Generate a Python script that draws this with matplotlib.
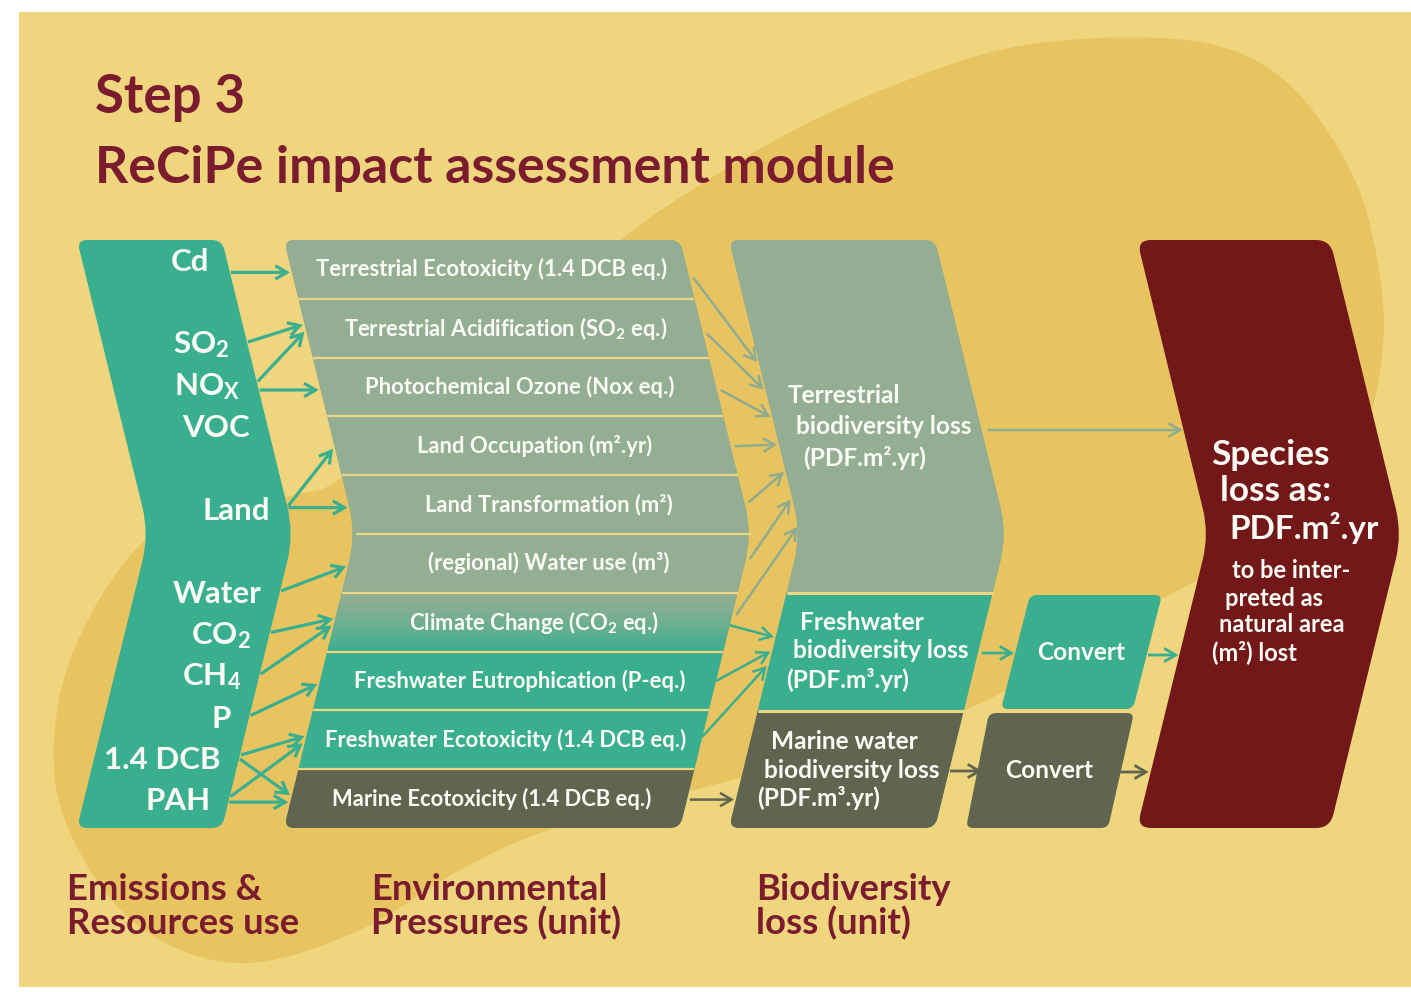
import numpy as np
import matplotlib
matplotlib.use('Agg')
import matplotlib.pyplot as plt
from matplotlib.path import Path
from matplotlib.patches import PathPatch, Rectangle

plt.rcParams['font.family'] = ['Lato', 'DejaVu Sans']

# ------------------------------------------------------------------ data
title_lines = ['Step 3', 'ReCiPe impact assessment module']
emissions = ['Cd', r'$\mathregular{SO_2}$', r'$\mathregular{NO_X}$', 'VOC', 'Land', 'Water',
             r'$\mathregular{CO_2}$', r'$\mathregular{CH_4}$', 'P', '1.4 DCB', 'PAH']
emission_slots = [0, 2, 3, 4, 6, 8, 9, 10, 11, 12, 13]
pressures = ['Terrestrial Ecotoxicity (1.4 DCB eq.)',
             r'Terrestrial Acidification ($\mathregular{SO_2}$ eq.)',
             'Photochemical Ozone (Nox eq.)',
             'Land Occupation (m².yr)',
             'Land Transformation (m²)',
             '(regional) Water use (m³)',
             r'Climate Change ($\mathregular{CO_2}$ eq.)',
             'Freshwater Eutrophication (P-eq.)',
             'Freshwater Ecotoxicity (1.4 DCB eq.)',
             'Marine Ecotoxicity (1.4 DCB eq.)']
pressure_kind = ['terrestrial'] * 6 + ['mixed', 'fresh', 'fresh', 'marine']
emission_links = [(0, 0), (1, 1), (2, 1), (2, 2), (4, 3), (4, 4), (5, 5),
                  (6, 6), (7, 6), (8, 7), (9, 8), (9, 9), (10, 8), (10, 9)]
biodiversity = [['Terrestrial', 'biodiversity loss', '(PDF.m².yr)'],
                ['Freshwater', 'biodiversity loss', '(PDF.m³.yr)'],
                ['Marine water', 'biodiversity loss', '(PDF.m³.yr)']]
bio_kind = ['terrestrial', 'fresh', 'marine']
pressure_links = [(0, 0), (1, 0), (2, 0), (3, 0), (4, 0), (5, 0), (6, 0),
                  (6, 1), (7, 1), (8, 1), (9, 2)]
convert_labels = ['Convert', 'Convert']
species_head = ['Species', 'loss as:', 'PDF.m².yr']
species_note = ['to be inter-', 'preted as', 'natural area', '(m²) lost']
column_headers = [['Emissions &', 'Resources use'],
                  ['Environmental', 'Pressures (unit)'],
                  ['Biodiversity', 'loss (unit)']]

# ------------------------------------------------------------------ style
BG_LIGHT = '#EED57E'
BG_DARK = '#E8C461'
TEAL = '#3AAF8F'
SAGE = '#93AE93'
OLIVE = '#5F654F'
WINE = '#731818'
MAROON = '#7A1C2E'
SEP = '#EDD683'
WHITE = '#FBFBF6'
kind_color = {'terrestrial': SAGE, 'fresh': TEAL, 'marine': OLIVE}
arrow_color = {'terrestrial': '#8FAC90', 'fresh': TEAL, 'marine': OLIVE}

W, Hh = 1411, 992
fig = plt.figure(figsize=(W / 100, Hh / 100), dpi=100, facecolor='white')
ax = fig.add_axes([0, 0, 1, 1])
ax.set_xlim(0, W)
ax.set_ylim(Hh, 0)
ax.axis('off')

TOP, BOT = 240, 828
HALF = (BOT - TOP) / 2
MIDY = TOP + HALF
DEPTH = 72


def edge(x0, y):
    return x0 + DEPTH * (1 - abs(y - MIDY) / HALF)


def rounded_path(pts, radii):
    n = len(pts)
    verts, codes = [], []
    for i in range(n):
        p = np.array(pts[i], float)
        prv = np.array(pts[i - 1], float)
        nxt = np.array(pts[(i + 1) % n], float)
        d1, d2 = prv - p, nxt - p
        l1, l2 = np.hypot(*d1), np.hypot(*d2)
        r1, r2 = min(radii[i], l1 / 2), min(radii[i], l2 / 2)
        a = p + d1 / l1 * r1
        b = p + d2 / l2 * r2
        verts.append(a)
        codes.append(Path.MOVETO if i == 0 else Path.LINETO)
        verts += [p, b]
        codes += [Path.CURVE3, Path.CURVE3]
    verts.append(verts[0])
    codes.append(Path.CLOSEPOLY)
    return Path(verts, codes)


def chevron(xl, xr, r=10, ra=28):
    pts = [(xl, TOP), (xr, TOP), (edge(xr, MIDY), MIDY), (xr, BOT), (xl, BOT), (edge(xl, MIDY), MIDY)]
    return rounded_path(pts, [r, r, ra, r, r, ra])


def catmull(points):
    P = np.array(points, float)
    n = len(P)
    verts = [P[0]]
    codes = [Path.MOVETO]
    for i in range(n):
        p0, p1, p2, p3 = P[i - 1], P[i], P[(i + 1) % n], P[(i + 2) % n]
        c1 = p1 + (p2 - p0) / 6
        c2 = p2 - (p3 - p1) / 6
        verts += [c1, c2, p2]
        codes += [Path.CURVE4] * 3
    return Path(verts, codes)


# ------------------------------------------------------------------ background
panel = Rectangle((19, 12), W - 19, 975, facecolor=BG_LIGHT, edgecolor='none', zorder=0)
ax.add_patch(panel)
blob_pts = [(1100, 38), (1200, 42), (1267, 67), (1317, 116), (1360, 192), (1380, 277), (1383, 344),
            (1368, 420), (1325, 488), (1255, 548), (1160, 600), (1090, 640), (960, 712), (750, 775),
            (560, 826), (460, 870), (360, 930), (250, 963), (160, 940), (95, 878), (55, 780),
            (70, 660), (140, 545), (225, 508), (300, 494), (345, 475), (470, 370), (621, 240),
            (700, 185), (800, 127), (900, 83), (1000, 50)]
blob = PathPatch(catmull(blob_pts), facecolor=BG_DARK, edgecolor='none', zorder=1)
ax.add_patch(blob)
blob.set_clip_path(panel)

# ------------------------------------------------------------------ emissions column
XL_E, XR_E = 77, 222
ax.add_patch(PathPatch(chevron(XL_E, XR_E), facecolor=TEAL, edgecolor='none', zorder=2))
SLOT0, SLOT_STEP = 262, 41.5
emission_y = [SLOT0 + s * SLOT_STEP for s in emission_slots]
for lab, y in zip(emissions, emission_y):
    ax.text(edge(XR_E, y) - 18, y, lab, ha='right', va='center', color=WHITE,
            fontsize=22.5, fontweight='bold', zorder=5)

# ------------------------------------------------------------------ pressures column
XL_P, XR_P = 284, 680
ROW_H = (BOT - TOP) / len(pressures)
row_center = [TOP + ROW_H * (i + 0.5) for i in range(len(pressures))]
pshape = PathPatch(chevron(XL_P, XR_P), facecolor=SAGE, edgecolor='none', zorder=2)
ax.add_patch(pshape)
for i, kind in enumerate(pressure_kind):
    y0 = TOP + ROW_H * i
    if kind == 'mixed':
        grad = np.linspace(0, 1, 100)[:, None]
        c0 = np.array(matplotlib.colors.to_rgb(SAGE))
        c1 = np.array(matplotlib.colors.to_rgb(TEAL))
        img = c0[None, None, :] * (1 - grad[:, :, None] ** 1.3) + c1[None, None, :] * grad[:, :, None] ** 1.3
        im = ax.imshow(img, extent=(XL_P - 5, edge(XR_P, MIDY) + 5, y0 + ROW_H, y0),
                       aspect='auto', zorder=2.5, interpolation='bilinear')
        im.set_clip_path(pshape)
    else:
        rect = Rectangle((XL_P - 5, y0), edge(XR_P, MIDY) - XL_P + 10, ROW_H,
                         facecolor=kind_color[kind], edgecolor='none', zorder=2.5)
        ax.add_patch(rect)
        rect.set_clip_path(pshape)
for i in range(1, len(pressures)):
    y = TOP + ROW_H * i
    ax.plot([edge(XL_P, y), edge(XR_P, y)], [y, y], color=SEP, lw=1.6, zorder=3,
            solid_capstyle='butt')
for lab, y in zip(pressures, row_center):
    xc = (edge(XL_P, y) + edge(XR_P, y)) / 2 + 2
    ax.text(xc, y, lab, ha='center', va='center', color=WHITE, fontsize=15.8,
            fontweight='bold', zorder=5)

# ------------------------------------------------------------------ biodiversity column
XL_B, XR_B = 729, 935
bio_bounds = [(TOP, 592.5), (592.5, 710.5), (710.5, BOT)]
bshape = PathPatch(chevron(XL_B, XR_B), facecolor=SAGE, edgecolor='none', zorder=2)
ax.add_patch(bshape)
for (y0, y1), kind in zip(bio_bounds, bio_kind):
    rect = Rectangle((XL_B - 5, y0), edge(XR_B, MIDY) - XL_B + 10, y1 - y0,
                     facecolor=kind_color[kind], edgecolor='none', zorder=2.5)
    ax.add_patch(rect)
    rect.set_clip_path(bshape)
for y0, _ in bio_bounds[1:]:
    ax.plot([edge(XL_B, y0), edge(XR_B, y0)], [y0, y0], color=SEP, lw=2.2, zorder=3,
            solid_capstyle='butt')
bio_text_center = [427, 651, 770]
bio_line_gap = [31.5, 29, 28.5]
for lines, yc, gap in zip(biodiversity, bio_text_center, bio_line_gap):
    for k, line in enumerate(lines):
        y = yc + (k - 1) * gap
        ax.text(edge(XL_B, y) + 21, y, line, ha='left', va='center', color=WHITE,
                fontsize=17.6, fontweight='bold', zorder=5)

# ------------------------------------------------------------------ convert boxes
convert_boxes = [[(1030, 595), (1162, 595), (1133, 709), (1001, 709)],
                 [(989, 713), (1134, 713), (1108, 828), (966, 828)]]
for j, (box, lab) in enumerate(zip(convert_boxes, convert_labels)):
    kind = bio_kind[j + 1]
    ax.add_patch(PathPatch(rounded_path(box, [7, 7, 7, 7]), facecolor=kind_color[kind],
                           edgecolor='none', zorder=2))
    cx = np.mean([p[0] for p in box])
    cy = np.mean([p[1] for p in box])
    ax.text(cx, cy, lab, ha='center', va='center', color=WHITE, fontsize=17.6,
            fontweight='bold', zorder=5)

# ------------------------------------------------------------------ species chevron
XL_R, XR_R = 1137, 1330
ax.add_patch(PathPatch(chevron(XL_R, XR_R, r=14, ra=26), facecolor=WINE, edgecolor='none', zorder=2))
for line, y, fs in zip(species_head, [455, 491, 528], [25.4, 25.4, 24]):
    ax.text(edge(XL_R, y) + 22, y, line, ha='left', va='center', color=WHITE,
            fontsize=fs, fontweight='bold', zorder=5)
for k, line in enumerate(species_note):
    y = 571 + k * 27
    ax.text(edge(XL_R, y) + 32, y, line, ha='left', va='center', color=WHITE,
            fontsize=17, fontweight='bold', zorder=5)

# ------------------------------------------------------------------ arrows


def arrow(x0, y0, x1, y1, color, lw):
    ax.annotate('', xy=(x1, y1), xytext=(x0, y0), zorder=4,
                arrowprops=dict(arrowstyle='->,head_length=0.55,head_width=0.32',
                                color=color, lw=lw, shrinkA=0, shrinkB=0,
                                mutation_scale=15, joinstyle='miter', capstyle='butt'))


# emissions -> pressures
for (s, d) in emission_links:
    outs = [l for l in emission_links if l[0] == s]
    ins = [l for l in emission_links if l[1] == d]
    ko, kin = outs.index((s, d)), ins.index((s, d))
    if len(ins) == 1:
        ye = row_center[d] + 3
    else:
        ye = row_center[d] + (kin - (len(ins) - 1) / 2) * 7
    ys = emission_y[s] - 3 + (ko - (len(outs) - 1) / 2) * 4
    if abs(ye - emission_y[s]) < 12:
        ys = ye
    arrow(edge(XR_E, ys) + 1, ys, edge(XL_P, ye) - 2, ye, TEAL, 2.3)

# pressures -> biodiversity
for (s, d) in pressure_links:
    ins = [l for l in pressure_links if l[1] == d]
    k = ins.index((s, d))
    if d == 0:
        ys = row_center[s] + 8 - 2.5 * k
        ye = 362 + 27.5 * k
        xs = edge(XR_P, ys) + 4
    elif d == 1:
        ys = row_center[s] + 3 - 3 * k
        ye = 651.5 + (k - 1) * 14.5
        xs = edge(XR_P, ys)
    else:
        ys = ye = row_center[s] + 1
        xs = edge(XR_P, ys) + 3
    arrow(xs, ys, edge(XL_B, ye) - 2, ye, arrow_color[bio_kind[d]], 1.8)

# biodiversity -> convert / species
arrow(edge(XR_B, 430) + 6, 430, edge(XL_R, 430) - 1, 430, arrow_color['terrestrial'], 1.8)
arrow(edge(XR_B, 653) + 4, 653, 1014, 653, TEAL, 2.0)
arrow(1148, 655, edge(XL_R, 655) - 1, 655, TEAL, 2.0)
arrow(edge(XR_B, 771) + 1, 771, 982, 771, OLIVE, 2.0)
arrow(1120, 772, edge(XL_R, 772) - 2, 772, OLIVE, 2.0)

# ------------------------------------------------------------------ titles
ax.text(95, 113, title_lines[0], ha='left', va='baseline', color=MAROON, fontsize=38,
        fontweight='bold', zorder=5)
ax.text(95, 183, title_lines[1], ha='left', va='baseline', color=MAROON, fontsize=37.4,
        fontweight='bold', zorder=5)
for (l1, l2), x in zip(column_headers, [67, 371, 756]):
    ax.text(x, 900, l1, ha='left', va='baseline', color=MAROON, fontsize=26.3,
            fontweight='bold', zorder=5)
    ax.text(x, 934, l2, ha='left', va='baseline', color=MAROON, fontsize=26.3,
            fontweight='bold', zorder=5)

fig.savefig('out.png', dpi=100, facecolor='white')
